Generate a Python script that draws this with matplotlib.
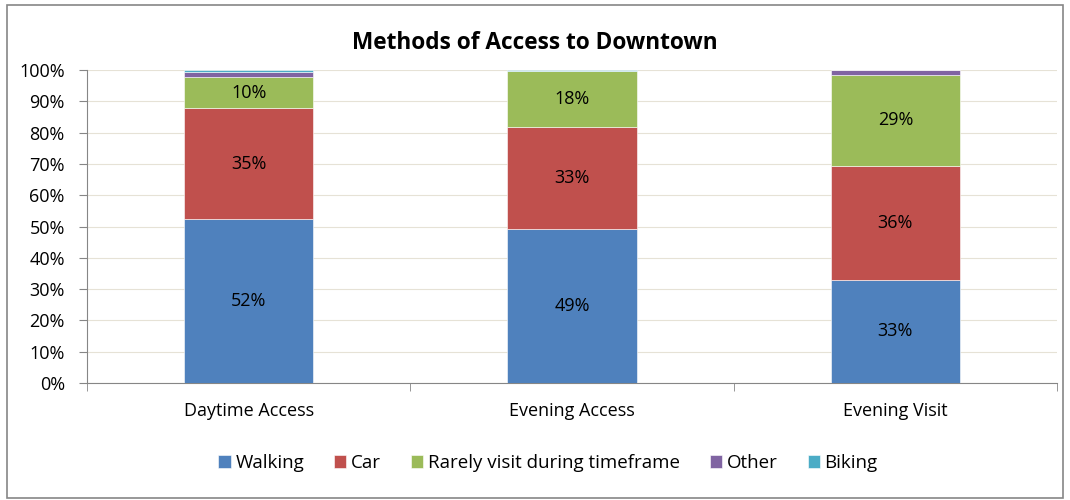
import matplotlib.pyplot as plt
from matplotlib.patches import Rectangle
import numpy as np

plt.rcParams['font.family'] = ['Open Sans', 'DejaVu Sans']

categories = ['Daytime Access', 'Evening Access', 'Evening Visit']
series = ['Walking', 'Car', 'Rarely visit during timeframe', 'Other', 'Biking']
walking = [52.4, 49.2, 33.0]
car = [35.3, 32.6, 36.4]
rarely = [10.1, 17.9, 29.0]
other = [1.5, 0.0, 1.6]
biking = [0.7, 0.3, 0.0]
labels_walking = ['52%', '49%', '33%']
labels_car = ['35%', '33%', '36%']
labels_rarely = ['10%', '18%', '29%']

colors = ['#4f81bd', '#c0504d', '#9bbb59', '#8064a2', '#4bacc6']
values = [walking, car, rarely, other, biking]
seg_labels = [labels_walking, labels_car, labels_rarely, None, None]

fig = plt.figure(figsize=(10.7, 5), dpi=100)
ax = fig.add_axes([87 / 1070, 1 - 383 / 500, 970 / 1070, 313 / 500])

x = np.arange(len(categories))
bottom = np.zeros(len(categories))
for vals, col, name, labs in zip(values, colors, series, seg_labels):
    ax.bar(x, vals, 0.40, bottom=bottom, color=col, label=name,
           edgecolor='white', linewidth=0.4, zorder=3)
    if labs:
        for xi, b, v, t in zip(x, bottom, vals, labs):
            ax.text(xi, b + v / 2, t, ha='center', va='center', fontsize=13, zorder=4)
    bottom = bottom + np.array(vals)

ax.set_xlim(-0.5, 2.5)
ax.set_ylim(0, 100)
ax.set_yticks(np.arange(0, 101, 10))
ax.set_yticklabels([f'{v}%' for v in range(0, 101, 10)], fontsize=13)
ax.yaxis.grid(True, color='#e6e2d6', linewidth=0.8, zorder=0)
ax.set_xticks(x)
ax.set_xticklabels(categories, fontsize=13)
ax.set_xticks([-0.5, 0.5, 1.5, 2.5], minor=True)
ax.tick_params(axis='x', which='major', length=0, pad=14)
ax.tick_params(axis='x', which='minor', length=6, color='#868686', direction='out')
ax.tick_params(axis='y', length=6, color='#868686', direction='out', pad=10)
for s in ['top', 'right']:
    ax.spines[s].set_visible(False)
for s in ['left', 'bottom']:
    ax.spines[s].set_color('#868686')

fig.text(0.5, 1 - 43 / 500, 'Methods of Access to Downtown', ha='center', va='center',
         fontsize=16.3, fontweight='bold')

ax.legend(loc='center', bbox_to_anchor=(548 / 1070, 1 - 463 / 500),
          bbox_transform=fig.transFigure, ncol=5, frameon=False, fontsize=13.5,
          handlelength=0.65, handleheight=0.65, handletextpad=0.25, columnspacing=1.6)

fig.patches.append(Rectangle((7 / 1070, 2 / 500), 1056 / 1070, 493 / 500,
                             transform=fig.transFigure, fill=False,
                             edgecolor='#868686', linewidth=1.2))

fig.savefig('out.png', dpi=100)
